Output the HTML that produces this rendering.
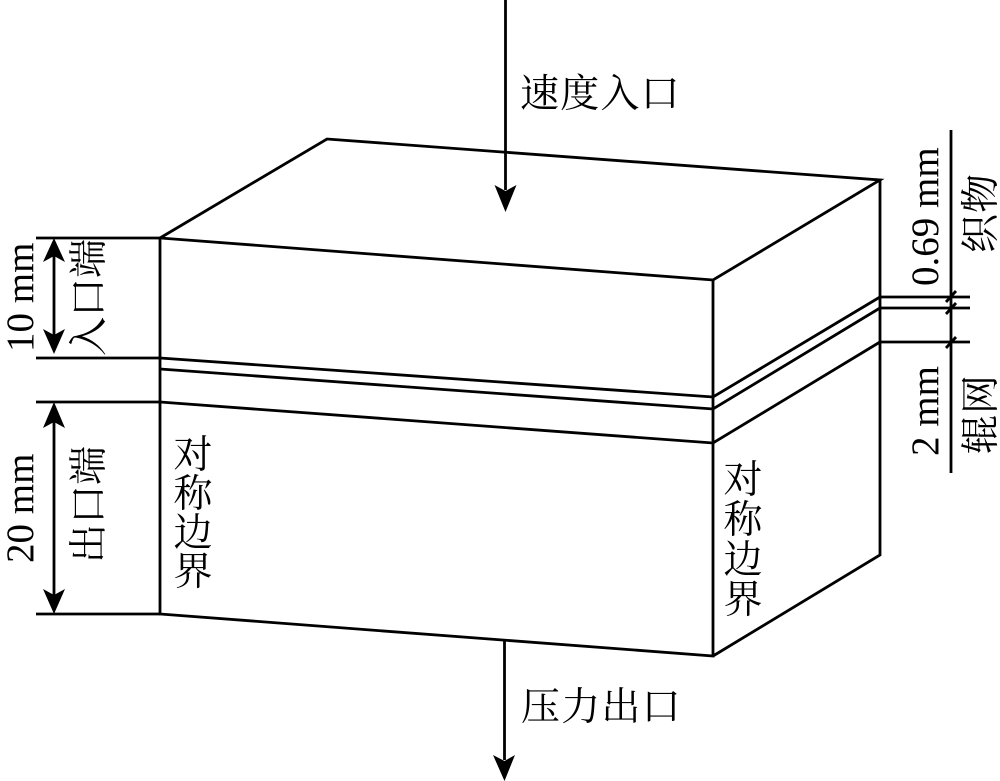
<!DOCTYPE html>
<html><head><meta charset="utf-8"><style>
html,body{margin:0;padding:0;background:#fff}
svg{display:block}
text{fill:#000}
.c{font-family:"Liberation Serif","Noto Serif CJK SC",serif;font-size:39px}
.l{font-family:"Liberation Serif",serif;font-size:39px}
</style></head><body>
<svg width="1000" height="781" viewBox="0 0 1000 781" xmlns="http://www.w3.org/2000/svg">
<g fill="none" stroke="#000" stroke-width="2.8">
<path d="M160 238L327 139L880 180L713 280L160 238Z"/>
<path d="M160 238V614L713 656V280M880 180V555L713 656"/>
<path d="M160 358L713 397L880 297M160 369L713 409L880 308M160 402L713 443L880 342"/>
<path d="M36 238H160M36 358H160M36 402H160M36 614H160"/>
<path d="M880 297H970M880 308H970M880 342H970"/>
<path d="M951 130V473"/>
<path d="M946 302L956 291M946 314L956 303M946 348L956 337"/>
<path d="M505.500 0V190M504.500 641V760M54 255V340M54 420V595"/>
</g>
<g fill="#000">
<path d="M494.500 185L505.500 191L516.500 185L505.500 212Z"/>
<path d="M493 755L504.500 761L515 755L504.500 781Z"/>
<path d="M54 238L65 262L54 256L43 262Z"/>
<path d="M54 354L65 329L54 335L43 329Z"/>
<path d="M54 402L65 428L54 422L43 428Z"/>
<path d="M54 614L65 589L54 595L43 589Z"/>
</g>
<text class="c" x="520" y="107" letter-spacing="1.200">速度入口</text>
<text class="c" x="521" y="720" letter-spacing="1.200">压力出口</text>
<g class="c" text-anchor="middle">
<text x="193" y="468">对</text><text x="193" y="507">称</text><text x="193" y="546">边</text><text x="193" y="585">界</text>
<text x="743" y="493">对</text><text x="743" y="533">称</text><text x="743" y="573">边</text><text x="743" y="613">界</text>
</g>
<text class="c" transform="translate(102,356) rotate(-90)">入口端</text>
<text class="c" transform="translate(102,563) rotate(-90)">出口端</text>
<text class="c" transform="translate(994,253) rotate(-90)" letter-spacing="1">织物</text>
<text class="c" transform="translate(994,454) rotate(-90)" letter-spacing="1">辊网</text>
<text class="l" transform="translate(33,352) rotate(-90)">10 mm</text>
<text class="l" transform="translate(33,563) rotate(-90)">20 mm</text>
<text class="l" transform="translate(938,286) rotate(-90)">0.69 mm</text>
<text class="l" transform="translate(938,456) rotate(-90)">2 mm</text>
</svg>
</body></html>
